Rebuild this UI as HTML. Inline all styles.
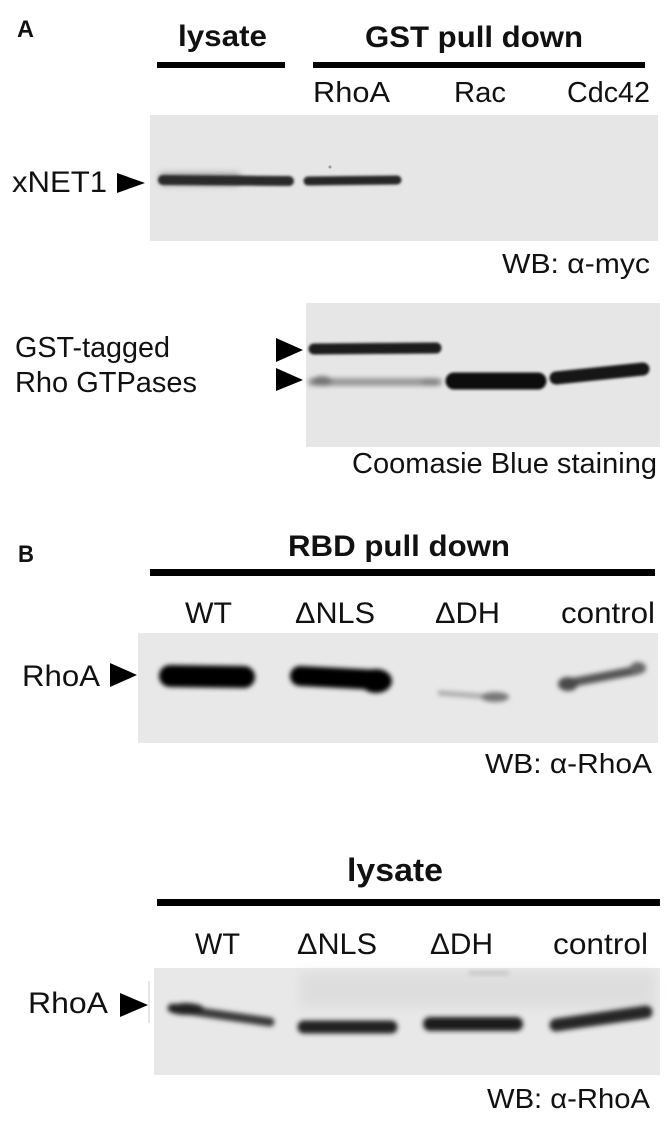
<!DOCTYPE html>
<html>
<head>
<meta charset="utf-8">
<style>
html,body{margin:0;padding:0;background:#fff;width:670px;height:1126px;overflow:hidden}
svg{display:block}
text{fill:#111}
</style>
</head>
<body>
<svg width="670" height="1126" viewBox="0 0 670 1126" xmlns="http://www.w3.org/2000/svg" font-family="'Liberation Sans', Arial, sans-serif">
<defs>
<filter id="b1" filterUnits="userSpaceOnUse" x="0" y="0" width="670" height="1126"><feGaussianBlur stdDeviation="1.3"/></filter>
<filter id="b2" filterUnits="userSpaceOnUse" x="0" y="0" width="670" height="1126"><feGaussianBlur stdDeviation="2.5"/></filter>
<filter id="b3" filterUnits="userSpaceOnUse" x="0" y="0" width="670" height="1126"><feGaussianBlur stdDeviation="3"/></filter>
<filter id="b5" filterUnits="userSpaceOnUse" x="0" y="0" width="670" height="1126"><feGaussianBlur stdDeviation="5"/></filter>
</defs>

<!-- ===== Panel A ===== -->
<text x="17" y="37" font-size="24" font-weight="bold" textLength="17" lengthAdjust="spacingAndGlyphs">A</text>
<text x="178" y="46" font-size="30" font-weight="bold" textLength="89" lengthAdjust="spacingAndGlyphs">lysate</text>
<text x="365" y="47" font-size="30" font-weight="bold" textLength="218" lengthAdjust="spacingAndGlyphs">GST pull down</text>
<rect x="157" y="62" width="128" height="6" fill="#000"/>
<rect x="313" y="62" width="332" height="6" fill="#000"/>

<text x="313" y="102" font-size="29" textLength="77" lengthAdjust="spacingAndGlyphs">RhoA</text>
<text x="454" y="102" font-size="29" textLength="52" lengthAdjust="spacingAndGlyphs">Rac</text>
<text x="567" y="102" font-size="29" textLength="83" lengthAdjust="spacingAndGlyphs">Cdc42</text>

<!-- blot 1 -->
<rect x="150" y="115" width="508" height="126" fill="#e6e6e6"/>
<g filter="url(#b3)" opacity="0.5">
<line x1="165" y1="179" x2="235" y2="179" stroke="#777" stroke-width="14" stroke-linecap="round"/>
</g>
<g filter="url(#b1)">
<line x1="163" y1="180" x2="289" y2="181" stroke="#2b2b2b" stroke-width="10" stroke-linecap="round"/>
<line x1="308" y1="181" x2="397" y2="180" stroke="#262626" stroke-width="9" stroke-linecap="round"/>
</g>
<circle cx="330" cy="167" r="1.5" fill="#999"/>

<text x="12" y="192" font-size="30" textLength="95" lengthAdjust="spacingAndGlyphs">xNET1</text>
<polygon points="117,173 117,193 145,183" fill="#000"/>

<text x="502" y="273" font-size="28" textLength="148" lengthAdjust="spacingAndGlyphs">WB: α-myc</text>

<!-- blot 2 -->
<rect x="306" y="303" width="354" height="144" fill="#e6e6e6"/>
<g filter="url(#b2)">
<line x1="312" y1="382" x2="438" y2="382" stroke="#9a9a9a" stroke-width="8" stroke-linecap="round"/>
<ellipse cx="322" cy="381" rx="10" ry="5" fill="#777"/>
<ellipse cx="430" cy="382" rx="9" ry="4" fill="#888"/>
</g>
<g filter="url(#b1)">
<line x1="314" y1="349" x2="436" y2="348" stroke="#1c1c1c" stroke-width="11" stroke-linecap="round"/>
<line x1="454" y1="381" x2="538" y2="381" stroke="#0d0d0d" stroke-width="17" stroke-linecap="round"/>
<line x1="556" y1="378" x2="643" y2="369" stroke="#151515" stroke-width="13" stroke-linecap="round"/>
</g>

<text x="15" y="357" font-size="29" textLength="155" lengthAdjust="spacingAndGlyphs">GST-tagged</text>
<text x="15" y="392" font-size="29" textLength="182" lengthAdjust="spacingAndGlyphs">Rho GTPases</text>
<polygon points="276,338 276,362 303,350" fill="#000"/>
<polygon points="276,368 276,391 303,380" fill="#000"/>

<text x="352" y="473" font-size="29" textLength="305" lengthAdjust="spacingAndGlyphs">Coomasie Blue staining</text>

<!-- ===== Panel B ===== -->
<text x="18" y="562" font-size="24" font-weight="bold" textLength="16" lengthAdjust="spacingAndGlyphs">B</text>
<text x="288" y="556" font-size="30" font-weight="bold" textLength="222" lengthAdjust="spacingAndGlyphs">RBD pull down</text>
<rect x="150" y="569" width="505" height="7" fill="#000"/>

<text x="185" y="623" font-size="30" textLength="47" lengthAdjust="spacingAndGlyphs">WT</text>
<text x="295" y="623" font-size="30" textLength="80" lengthAdjust="spacingAndGlyphs">ΔNLS</text>
<text x="435" y="623" font-size="30" textLength="65" lengthAdjust="spacingAndGlyphs">ΔDH</text>
<text x="561" y="623" font-size="30" textLength="94" lengthAdjust="spacingAndGlyphs">control</text>

<!-- blot 3 -->
<rect x="138" y="633" width="520" height="110" fill="#e8e8e8"/>
<g filter="url(#b2)">
<line x1="170" y1="676" x2="244" y2="677" stroke="#000" stroke-width="22" stroke-linecap="round"/>
<line x1="300" y1="676" x2="380" y2="680" stroke="#050505" stroke-width="20" stroke-linecap="round"/>
<ellipse cx="376" cy="681" rx="16" ry="12" fill="#000"/>
<line x1="440" y1="693" x2="505" y2="698" stroke="#aaa" stroke-width="5" stroke-linecap="round"/>
<ellipse cx="495" cy="697" rx="14" ry="5" fill="#777"/>
<line x1="564" y1="684" x2="638" y2="670" stroke="#555" stroke-width="9" stroke-linecap="round"/>
<ellipse cx="638" cy="668" rx="8" ry="6" fill="#666"/>
<ellipse cx="568" cy="684" rx="10" ry="7" fill="#4a4a4a"/>
</g>

<text x="22" y="686" font-size="30" textLength="78" lengthAdjust="spacingAndGlyphs">RhoA</text>
<polygon points="110,663 110,687 137,675" fill="#000"/>

<text x="485" y="773" font-size="28" textLength="167" lengthAdjust="spacingAndGlyphs">WB: α-RhoA</text>

<!-- lysate B -->
<text x="347" y="881" font-size="32" font-weight="bold" textLength="96" lengthAdjust="spacingAndGlyphs">lysate</text>
<rect x="157" y="899" width="503" height="7" fill="#000"/>

<text x="195" y="954" font-size="30" textLength="45" lengthAdjust="spacingAndGlyphs">WT</text>
<text x="297" y="954" font-size="30" textLength="80" lengthAdjust="spacingAndGlyphs">ΔNLS</text>
<text x="430" y="954" font-size="30" textLength="63" lengthAdjust="spacingAndGlyphs">ΔDH</text>
<text x="553" y="954" font-size="30" textLength="95" lengthAdjust="spacingAndGlyphs">control</text>

<!-- blot 4 -->
<rect x="154" y="968" width="506" height="107" fill="#e8e8e8"/>
<g filter="url(#b5)" opacity="0.5">
<rect x="300" y="972" width="355" height="36" fill="#d4d4d4"/>
</g>
<g filter="url(#b2)">
<line x1="470" y1="973" x2="508" y2="973" stroke="#bbb" stroke-width="3" stroke-linecap="round"/>
</g>
<line x1="149" y1="981" x2="149" y2="1023" stroke="#ccc" stroke-width="1"/>
<g filter="url(#b2)">
<line x1="172" y1="1008" x2="270" y2="1022" stroke="#3a3a3a" stroke-width="9" stroke-linecap="round"/>
<ellipse cx="186" cy="1009" rx="18" ry="6" fill="#222"/>
<line x1="304" y1="1027" x2="391" y2="1027" stroke="#222" stroke-width="13" stroke-linecap="round"/>
<line x1="430" y1="1024" x2="516" y2="1024" stroke="#1a1a1a" stroke-width="14" stroke-linecap="round"/>
<line x1="556" y1="1025" x2="646" y2="1012" stroke="#252525" stroke-width="13" stroke-linecap="round"/>
</g>

<text x="28" y="1013" font-size="30" textLength="80" lengthAdjust="spacingAndGlyphs">RhoA</text>
<polygon points="120,993 120,1017 148,1005" fill="#000"/>

<text x="487" y="1108" font-size="28" textLength="163" lengthAdjust="spacingAndGlyphs">WB: α-RhoA</text>
</svg>
</body>
</html>
